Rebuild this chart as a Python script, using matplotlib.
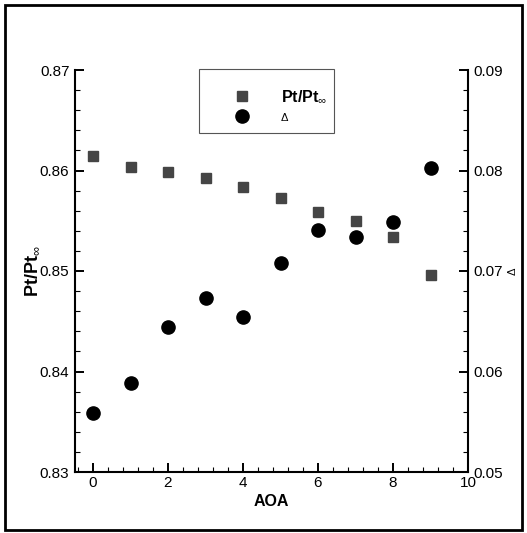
import matplotlib
matplotlib.use("Agg")
import matplotlib.pyplot as plt
from matplotlib.ticker import MultipleLocator
from matplotlib.patches import Rectangle
from matplotlib.lines import Line2D

plt.rcParams['font.family'] = ['Liberation Sans', 'DejaVu Sans']
plt.rcParams['mathtext.fontset'] = 'custom'
plt.rcParams['mathtext.rm'] = 'Liberation Sans'
plt.rcParams['mathtext.bf'] = 'Liberation Sans:bold'

aoa = [0, 1, 2, 3, 4, 5, 6, 7, 8, 9]
pt_ratio = [0.8614, 0.8603, 0.8599, 0.8593, 0.8584, 0.8573, 0.8559, 0.8550, 0.8534, 0.8496]
delta = [0.0559, 0.0589, 0.0644, 0.0673, 0.0654, 0.0708, 0.0741, 0.0734, 0.0749, 0.0802]

fig = plt.figure(figsize=(5.27, 5.33), dpi=100)
ax = fig.add_axes([75/527, 61/533, 393/527, 402/533])
ax2 = ax.twinx()

ax.plot(aoa, pt_ratio, linestyle='none', marker='s', markersize=7, color='#454545', zorder=3)
ax2.plot(aoa, delta, linestyle='none', marker='o', markersize=9.5, color='black', zorder=3)

ax.set_xlim(-0.48, 10)
ax.set_ylim(0.83, 0.87)
ax2.set_ylim(0.05, 0.09)

ax.xaxis.set_major_locator(MultipleLocator(2))
ax.xaxis.set_minor_locator(MultipleLocator(0.4))
ax.yaxis.set_major_locator(MultipleLocator(0.01))
ax.yaxis.set_minor_locator(MultipleLocator(0.002))
ax2.yaxis.set_major_locator(MultipleLocator(0.01))
ax2.yaxis.set_minor_locator(MultipleLocator(0.002))

ax.set_xticks([0, 2, 4, 6, 8, 10])
ax.set_xticklabels(['0', '2', '4', '6', '8', '10'])
ax.set_yticks([0.83, 0.84, 0.85, 0.86, 0.87])
ax.set_yticklabels(['0.83', '0.84', '0.85', '0.86', '0.87'])
ax2.set_yticks([0.05, 0.06, 0.07, 0.08, 0.09])
ax2.set_yticklabels(['0.05', '0.06', '0.07', '0.08', '0.09'])

for a in (ax, ax2):
    a.spines['top'].set_visible(False)
    for s in a.spines.values():
        s.set_linewidth(1.5)
ax.spines['right'].set_visible(False)
ax2.spines['left'].set_visible(False)
ax2.spines['bottom'].set_visible(False)

ax.tick_params(axis='both', which='major', direction='in', length=6.5, width=1.4, labelsize=11, pad=4)
ax.tick_params(axis='both', which='minor', direction='in', length=3.5, width=0.8)
ax.tick_params(axis='x', which='both', top=False, pad=3)
ax.tick_params(axis='y', which='both', right=False)
ax2.tick_params(axis='y', which='major', direction='in', length=6.5, width=1.4, labelsize=11, pad=4)
ax2.tick_params(axis='y', which='minor', direction='in', length=3.5, width=0.8)

ax.set_xlabel('AOA', fontsize=11.5, fontweight='bold', labelpad=3)
ax.set_ylabel(r'$\mathbf{Pt/Pt}_{\infty}$', fontsize=13, labelpad=-1)
ax2.set_ylabel('Δ', fontsize=8, rotation=90, labelpad=3)

# legend box (frame) in pixel-derived axes fractions
ax.add_patch(Rectangle(((199 - 75) / 393, (472 - 133) / 402), 135 / 393, 64 / 402,
                       transform=ax.transAxes, fill=False, edgecolor='#555555',
                       linewidth=0.8, clip_on=False, zorder=4))

handles = [Line2D([], [], linestyle='none', marker='s', markersize=7, color='#454545'),
           Line2D([], [], linestyle='none', marker='o', markersize=9.5, color='black')]
labels = [r'$\mathbf{Pt/Pt}_{\infty}$', 'Δ']
leg = ax.legend(handles, labels, loc='center left',
                bbox_to_anchor=((210 - 75) / 393, (472 - 106) / 402),
                frameon=False, borderpad=0, handlelength=4.0, handletextpad=0.45,
                labelspacing=0.3, borderaxespad=0, fontsize=11.5)
leg.get_texts()[1].set_fontsize(8)

fig.add_artist(Rectangle((5/527, 3/533), 517/527, 525/533, transform=fig.transFigure,
                         fill=False, edgecolor='black', linewidth=2))

fig.savefig('out.png', dpi=100)
